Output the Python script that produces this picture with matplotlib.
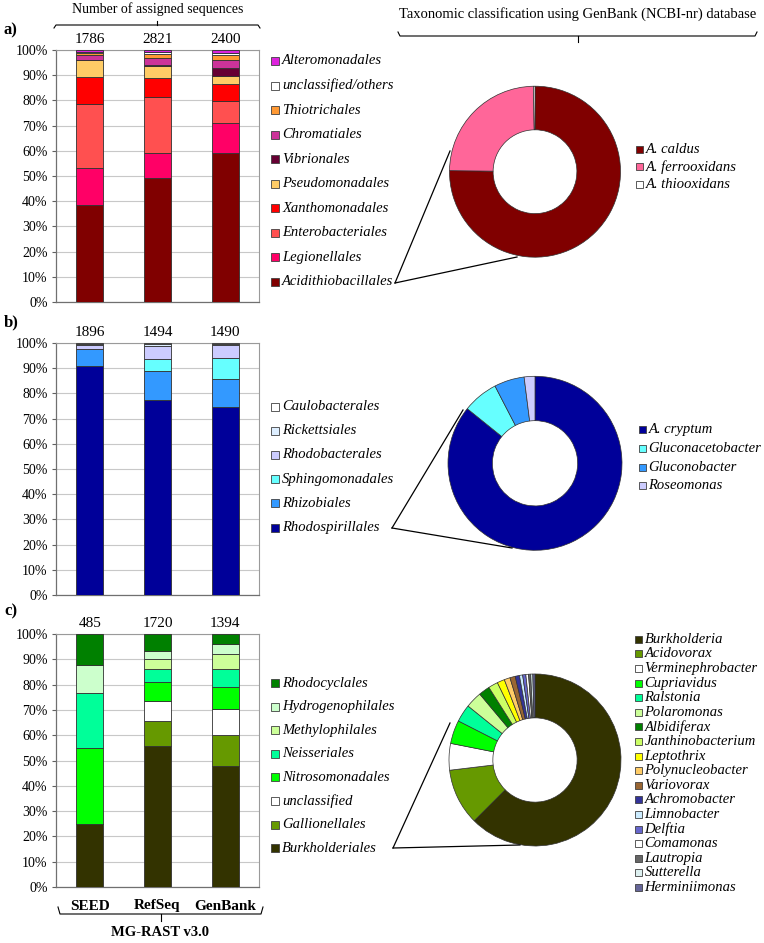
import matplotlib
matplotlib.use("Agg")
import matplotlib.pyplot as plt
from matplotlib.patches import Rectangle
from matplotlib.lines import Line2D
import numpy as np

plt.rcParams['font.family'] = ['Liberation Serif', 'DejaVu Serif']

W, H = 764, 943

# ---------------- data ----------------
databases = ['SEED', 'RefSeq', 'GenBank']

# panel a (bottom -> top)
a_orders = ['Acidithiobacillales', 'Legionellales', 'Enterobacteriales', 'Xanthomonadales',
            'Pseudomonadales', 'Vibrionales', 'Chromatiales', 'Thiotrichales',
            'unclassified/others', 'Alteromonadales']
a_acidithiobacillales = [38.3, 49.2, 59.0]
a_legionellales = [14.7, 10.0, 12.0]
a_enterobacteriales = [25.4, 22.3, 8.6]
a_xanthomonadales = [11.0, 7.3, 6.9]
a_pseudomonadales = [6.6, 4.7, 3.2]
a_vibrionales = [0.0, 0.4, 3.2]
a_chromatiales = [2.0, 2.8, 3.0]
a_thiotrichales = [0.8, 1.6, 2.0]
a_unclassified = [0.5, 1.0, 1.1]
a_alteromonadales = [0.7, 0.7, 1.0]
a_counts = [1786, 2821, 2400]
a_colors = ['#800000', '#FF0066', '#FF5050', '#FF0000', '#FFCC66', '#660033',
            '#CC3399', '#FF9933', '#FFFFFF', '#DD22DD']

a_species = ['A. caldus', 'A. ferrooxidans', 'A. thiooxidans']
a_species_vals = [75.2, 24.5, 0.3]
a_species_colors = ['#800000', '#FF6699', '#FFFFFF']

# panel b (bottom -> top)
b_orders = ['Rhodospirillales', 'Rhizobiales', 'Sphingomonadales', 'Rhodobacterales',
            'Rickettsiales', 'Caulobacterales']
b_rhodospirillales = [90.7, 77.5, 74.6]
b_rhizobiales = [6.8, 11.2, 11.1]
b_sphingomonadales = [0.0, 5.0, 8.2]
b_rhodobacterales = [1.7, 5.3, 5.5]
b_rickettsiales = [0.5, 0.7, 0.4]
b_caulobacterales = [0.3, 0.3, 0.2]
b_counts = [1896, 1494, 1490]
b_colors = ['#000099', '#3399FF', '#66FFFF', '#CCCCFF', '#DDEEFF', '#FFFFFF']

b_species = ['A. cryptum', 'Gluconacetobacter', 'Gluconobacter', 'Roseomonas']
b_species_vals = [85.8, 6.6, 5.6, 2.0]
b_species_colors = ['#000099', '#66FFFF', '#3399FF', '#CCCCFF']

# panel c (bottom -> top)
c_orders = ['Burkholderiales', 'Gallionellales', 'unclassified', 'Nitrosomonadales',
            'Neisseriales', 'Methylophilales', 'Hydrogenophilales', 'Rhodocyclales']
c_burkholderiales = [24.8, 55.7, 47.8]
c_gallionellales = [0.0, 10.1, 12.2]
c_unclassified = [0.0, 7.8, 10.2]
c_nitrosomonadales = [30.2, 7.4, 9.0]
c_neisseriales = [21.5, 5.1, 6.9]
c_methylophilales = [0.0, 4.1, 5.9]
c_hydrogenophilales = [11.4, 3.2, 4.0]
c_rhodocyclales = [12.1, 6.6, 4.0]
c_counts = [485, 1720, 1394]
c_colors = ['#333300', '#669900', '#FFFFFF', '#00FF00', '#00FF99', '#CCFF99',
            '#CCFFCC', '#008000']

c_genera = ['Burkholderia', 'Acidovorax', 'Verminephrobacter', 'Cupriavidus', 'Ralstonia',
            'Polaromonas', 'Albidiferax', 'Janthinobacterium', 'Leptothrix',
            'Polynucleobacter', 'Variovorax', 'Achromobacter', 'Limnobacter', 'Delftia',
            'Comamonas', 'Lautropia', 'Sutterella', 'Herminiimonas']
c_genera_vals = [62.5, 10.6, 5.0, 4.4, 3.3, 3.1, 2.1, 1.8, 1.4, 1.1, 1.0, 0.8,
                 0.6, 0.6, 0.5, 0.4, 0.4, 0.4]
c_genera_colors = ['#333300', '#669900', '#FFFFFF', '#00FF00', '#00FF99', '#CCFF99',
                   '#008000', '#CCFF66', '#FFFF00', '#FFCC66', '#996633', '#333399',
                   '#CCECFF', '#6666CC', '#FFFFFF', '#666666', '#DDF0F0', '#666699']

a_series = [a_acidithiobacillales, a_legionellales, a_enterobacteriales, a_xanthomonadales,
            a_pseudomonadales, a_vibrionales, a_chromatiales, a_thiotrichales,
            a_unclassified, a_alteromonadales]
b_series = [b_rhodospirillales, b_rhizobiales, b_sphingomonadales, b_rhodobacterales,
            b_rickettsiales, b_caulobacterales]
c_series = [c_burkholderiales, c_gallionellales, c_unclassified, c_nitrosomonadales,
            c_neisseriales, c_methylophilales, c_hydrogenophilales, c_rhodocyclales]

# ---------------- helpers ----------------
fig = plt.figure(figsize=(W / 100, H / 100), dpi=100)


def fx(x):
    return x / W


def fy(y):
    return 1 - y / H


def axes_px(x0, y0, x1, y1):
    return fig.add_axes([fx(x0), fy(y1), (x1 - x0) / W, (y1 - y0) / H])


def bar_panel(y_top, y_bot, series, colors, counts, show_x):
    ax = axes_px(56, y_top, 259, y_bot)
    x = np.arange(len(databases))
    bottom = np.zeros(len(databases))
    for vals, col in zip(series, colors):
        v = np.array(vals, dtype=float)
        ax.bar(x, v, bottom=bottom, width=0.4, color=col, edgecolor='#303030',
               linewidth=0.6, zorder=3)
        bottom += v
    ax.set_xlim(-0.5, 2.5)
    ax.set_ylim(0, 100)
    ax.set_yticks(np.arange(0, 101, 10))
    ax.set_yticklabels([f'{v}%' for v in range(0, 101, 10)], fontsize=10)
    ax.yaxis.grid(True, color='#C8C8C8', linewidth=0.8, zorder=0)
    ax.set_axisbelow(True)
    ax.tick_params(axis='y', length=3, width=0.8, color='#606060', pad=3)
    for s in ['top', 'right']:
        ax.spines[s].set_color('#9A9A9A')
        ax.spines[s].set_linewidth(0.8)
    for s in ['left', 'bottom']:
        ax.spines[s].set_color('#707070')
        ax.spines[s].set_linewidth(0.9)
    if show_x:
        ax.set_xticks(x)
        ax.set_xticklabels(databases, fontsize=11, fontweight='bold')
        ax.tick_params(axis='x', length=0, pad=9)
    else:
        ax.set_xticks([])
    for i, n in enumerate(counts):
        ax.text(i, 104, str(n), ha='center', va='center', fontsize=11, clip_on=False)
    return ax


def legend_block(xm, y0, dy, labels, colors, fs, ms=8):
    for i, (lab, col) in enumerate(zip(labels, colors)):
        y = y0 + i * dy
        fig.patches.append(Rectangle((fx(xm - ms / 2), fy(y + ms / 2)), ms / W, ms / H,
                                     transform=fig.transFigure, facecolor=col,
                                     edgecolor='#404040', linewidth=0.6))
        fig.text(fx(xm + ms / 2 + 3), fy(y), lab, va='center', ha='left',
                 style='italic', fontsize=fs)


def donut(cx, cy, r, vals, colors):
    ax = axes_px(cx - r, cy - r, cx + r, cy + r)
    ax.pie(vals, colors=colors, startangle=90, counterclock=False, radius=1,
           wedgeprops=dict(width=0.51, edgecolor='#303030', linewidth=0.5))
    ax.set_xlim(-1.0, 1.0)
    ax.set_ylim(-1.0, 1.0)
    ax.set_aspect('equal')
    ax.axis('off')
    return ax


def fline(xs, ys, lw=0.9, color='black'):
    fig.lines.append(Line2D([fx(v) for v in xs], [fy(v) for v in ys],
                            transform=fig.transFigure, color=color, linewidth=lw))


def brace(x0, x1, y, hook, tick):
    # hook: vertical offset of the ends, tick: vertical offset of the centre tick
    xm = (x0 + x1) / 2
    fline([x0, x0 + 2, x1 - 2, x1], [y + hook, y, y, y + hook], lw=0.8)
    fline([xm, xm], [y, y + tick], lw=0.8)


# ---------------- bar panels ----------------
bar_panel(50, 302, a_series, a_colors, a_counts, False)
bar_panel(343, 595, b_series, b_colors, b_counts, False)
bar_panel(634, 887, c_series, c_colors, c_counts, True)

legend_block(275, 61, 24.55, a_orders[::-1], a_colors[::-1], 10.5)
legend_block(275, 406.5, 24.2, b_orders[::-1], b_colors[::-1], 10.5)
legend_block(275, 683, 23.6, c_orders[::-1], c_colors[::-1], 10.5)

# ---------------- donuts ----------------
donut(535, 171.7, 85.5, a_species_vals, a_species_colors)
donut(535, 463.3, 87, b_species_vals, b_species_colors)
donut(535, 760, 86, c_genera_vals, c_genera_colors)

legend_block(639, 149.3, 17.4, a_species, a_species_colors, 10.5, ms=7)
legend_block(642, 429.3, 18.9, b_species, b_species_colors, 10.5, ms=7)
legend_block(638, 639.3, 14.6, c_genera, c_genera_colors, 10.5, ms=7)

# leader lines
fline([395, 450], [283, 151])
fline([395, 517], [283, 257])
fline([392, 463], [528, 410])
fline([392, 512], [528, 548])
fline([393, 450], [848, 723])
fline([393, 520], [848, 845])

# panel letters
fig.text(fx(4), fy(30), 'a)', fontsize=12, fontweight='bold', va='center', ha='left')
fig.text(fx(4), fy(322), 'b)', fontsize=12, fontweight='bold', va='center', ha='left')
fig.text(fx(4), fy(611), 'c)', fontsize=12, fontweight='bold', va='center', ha='left')

# headers and braces
fig.text(fx(158), fy(9), 'Number of assigned sequences', fontsize=10, ha='center', va='center')
brace(54, 260, 25, 3, -4)
fig.text(fx(578), fy(14), 'Taxonomic classification using GenBank (NCBI-nr) database',
         fontsize=10.5, ha='center', va='center')
brace(398, 757, 36, -4, 6)

brace(58, 263, 914, -7, 7)
fig.text(fx(160), fy(933), 'MG-RAST v3.0', fontsize=10.5, fontweight='bold',
         ha='center', va='center')

fig.savefig('out.png', dpi=100)
